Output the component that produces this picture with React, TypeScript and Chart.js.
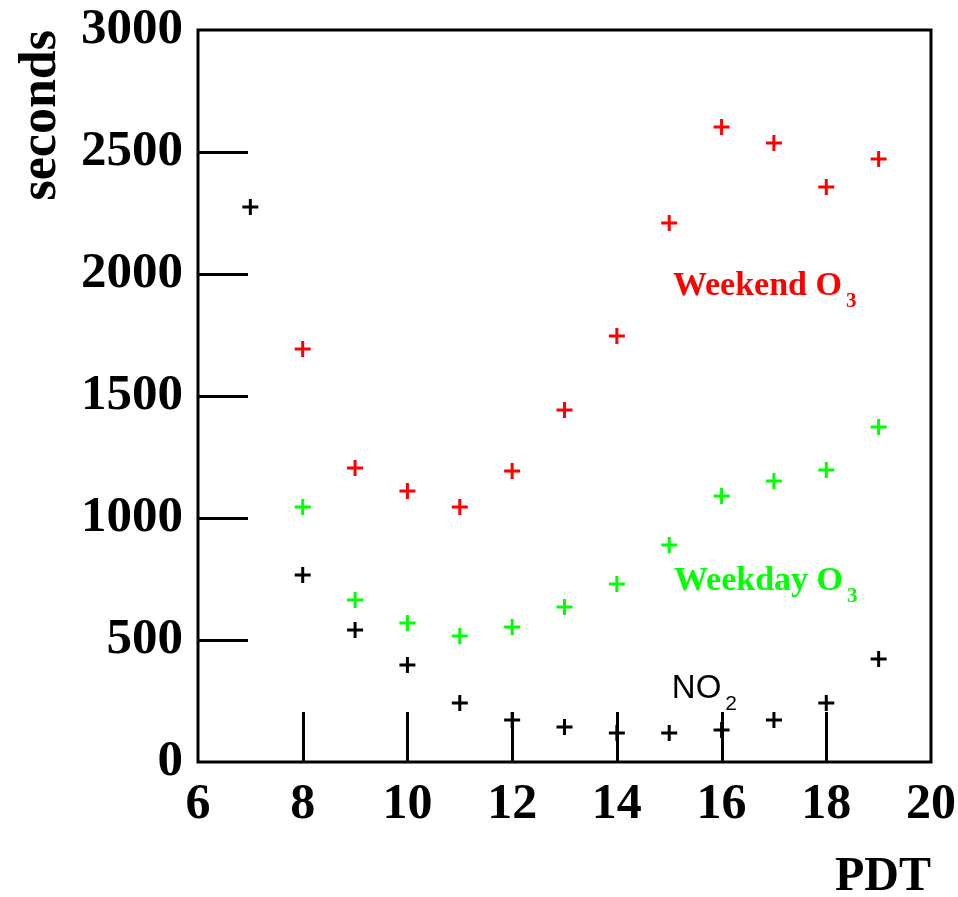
import React, { useEffect, useRef } from "react";
import { Chart, registerables } from "chart.js";

Chart.register(...registerables);

const hours = [7, 8, 9, 10, 11, 12, 13, 14, 15, 16, 17, 18, 19];
const no2 = [2275, 766, 541, 398, 242, 172, 143, 119, 119, 131, 172, 242, 422];
const weekendO3 = [null, 1693, 1205, 1111, 1045, 1193, 1443, 1746, 2209, 2602, 2537, 2357, 2471];
const weekdayO3 = [null, 1045, 664, 570, 516, 553, 635, 730, 889, 1090, 1152, 1197, 1373];

const yTickValues = [500, 1000, 1500, 2000, 2500];
const xTickValues = [8, 10, 12, 14, 16, 18];

const labelTexts = [
  { main: "Weekend O", sub: "3", x: 15.07, y: 1914, color: "#ff0000", bold: true },
  { main: "Weekday O", sub: "3", x: 15.09, y: 705, color: "#00ff00", bold: true },
  { main: "NO", sub: "2", x: 15.05, y: 262, color: "#000000", bold: false },
];

const SERIF = "'Liberation Serif', 'Times New Roman', serif";
const SANS = "'Liberation Sans', Arial, sans-serif";

const framePlugin = {
  id: "framePlugin",
  afterDraw(chart: any) {
    const ctx = chart.ctx;
    const { left, right, top, bottom } = chart.chartArea;
    const xs = chart.scales.x;
    const ys = chart.scales.y;
    ctx.save();
    ctx.strokeStyle = "#000";
    ctx.lineWidth = 3;
    ctx.strokeRect(left, top, right - left, bottom - top);
    ctx.beginPath();
    for (const v of yTickValues) {
      const py = Math.round(ys.getPixelForValue(v)) + 0.5;
      ctx.moveTo(left, py);
      ctx.lineTo(left + 50, py);
    }
    for (const v of xTickValues) {
      const px = Math.round(xs.getPixelForValue(v)) + 0.5;
      ctx.moveTo(px, bottom);
      ctx.lineTo(px, bottom - 50);
    }
    ctx.stroke();

    ctx.textBaseline = "alphabetic";
    ctx.textAlign = "left";
    for (const l of labelTexts) {
      const px = xs.getPixelForValue(l.x);
      const py = ys.getPixelForValue(l.y);
      ctx.fillStyle = l.color;
      if (l.bold) {
        ctx.font = "bold 34px " + SERIF;
      } else {
        ctx.font = "33px " + SANS;
      }
      ctx.fillText(l.main, px, py);
      const w = ctx.measureText(l.main).width;
      ctx.font = (l.bold ? "bold 21px " + SERIF : "21px " + SANS);
      ctx.fillText(l.sub, px + w + 4, py + 12);
    }
    ctx.restore();
  },
};

export default function App() {
  const ref = useRef<HTMLCanvasElement | null>(null);
  useEffect(() => {
    if (!ref.current) return;
    const mk = (vals: (number | null)[], color: string, label: string) => ({
      label,
      data: hours.map((h, i) => ({ x: h, y: vals[i] })).filter((p) => p.y !== null),
      pointStyle: "cross",
      pointRadius: 8,
      pointBorderWidth: 3,
      borderColor: color,
      backgroundColor: color,
      showLine: false,
      clip: false as any,
    });
    const chart = new Chart(ref.current, {
      type: "scatter",
      data: {
        datasets: [
          mk(weekendO3, "#ff0000", "Weekend O3"),
          mk(weekdayO3, "#00ff00", "Weekday O3"),
          mk(no2, "#000000", "NO2"),
        ] as any,
      },
      plugins: [framePlugin],
      options: {
        animation: false,
        responsive: false,
        devicePixelRatio: 1,
        layout: { padding: { left: 0, top: 30, right: 27, bottom: 0 } },
        plugins: { legend: { display: false }, tooltip: { enabled: false } },
        scales: {
          x: {
            type: "linear",
            min: 6,
            max: 20,
            afterFit: (s: any) => {
              s.height = 135;
              s.paddingLeft = 0;
              s.paddingRight = 0;
            },
            grid: { display: false, drawTicks: false },
            border: { display: false },
            ticks: {
              stepSize: 2,
              padding: 13,
              color: "#000",
              font: { family: SERIF, size: 50, weight: "bold" },
              maxRotation: 0,
              autoSkip: false,
              callback: (v: any) => String(v),
            },
            title: {
              display: true,
              text: "PDT",
              align: "end",
              color: "#000",
              font: { family: SERIF, size: 48, weight: "bold", lineHeight: 0.8 },
              padding: { top: 0, bottom: 0 },
            },
          },
          y: {
            type: "linear",
            min: 0,
            max: 3000,
            afterFit: (s: any) => {
              s.width = 198;
              s.paddingTop = 0;
              s.paddingBottom = 0;
            },
            grid: { display: false, drawTicks: false },
            border: { display: false },
            ticks: {
              stepSize: 500,
              padding: 15,
              color: "#000",
              font: { family: SERIF, size: 51, weight: "bold" },
              autoSkip: false,
              callback: (v: any) => String(v),
            },
            title: {
              display: true,
              text: "seconds",
              align: "end",
              color: "#000",
              font: { family: SERIF, size: 52, weight: "bold", lineHeight: 1.2 },
              padding: { top: 10, bottom: 0 },
            },
          },
        },
      } as any,
    });
    return () => chart.destroy();
  }, []);
  return (
    <div style={{ position: "absolute", left: 0, top: 0, width: 958, height: 897, background: "#fff" }}>
      <canvas ref={ref} width={958} height={897} style={{ display: "block" }} />
    </div>
  );
}
